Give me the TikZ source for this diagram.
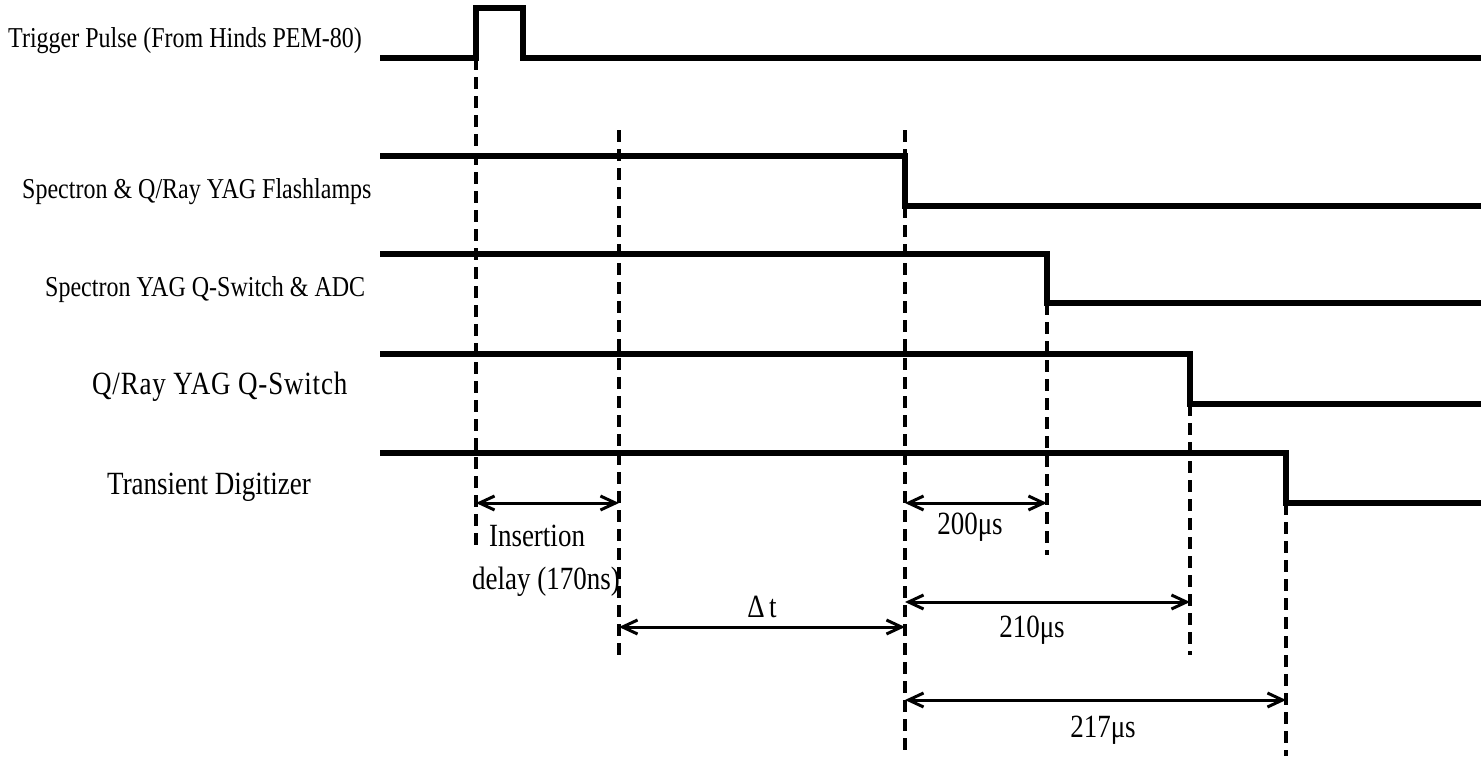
\documentclass[tikz,border=0pt]{standalone}
\usepackage{fontspec}
\setmainfont{Liberation Serif}
\usetikzlibrary{arrows.meta}
\newcommand{\tallt}[1]{\scalebox{1}[1.2]{#1}}
\tikzset{
  sig/.style={line width=5.5pt, line join=miter, line cap=butt},
  guide/.style={line width=3.3pt, dash pattern=on 12pt off 7pt},
  dimline/.style={line width=3pt, {Straight Barb[length=15pt,width=14pt,line width=3pt]}-{Straight Barb[length=15pt,width=14pt,line width=3pt]}},
  lbl/.style={font=\fontsize{24}{28}\selectfont, inner sep=0pt},
  lblbig/.style={font=\fontsize{27}{32}\selectfont, inner sep=0pt},
}
\begin{document}
\begin{tikzpicture}[x=1pt,y=-1pt]
\useasboundingbox (0,0) rectangle (1481,756);
% signals
\draw[sig] (380,58) -- (476,58) -- (476,8) -- (523,8) -- (523,58) -- (1481,58);
\draw[sig] (380,156) -- (905,156) -- (905,206) -- (1481,206);
\draw[sig] (380,254) -- (1047,254) -- (1047,303) -- (1481,303);
\draw[sig] (380,354) -- (1190,354) -- (1190,404) -- (1481,404);
\draw[sig] (380,453) -- (1286,453) -- (1286,503) -- (1481,503);
% dashed guides
\coordinate (g0a) at (476,58);  \coordinate (g0b) at (476,552);
\coordinate (g1a) at (619,130); \coordinate (g1b) at (619,655);
\coordinate (g2a) at (905,130); \coordinate (g2b) at (905,756);
\coordinate (g3a) at (1047,303); \coordinate (g3b) at (1047,555);
\coordinate (g4a) at (1190,404); \coordinate (g4b) at (1190,655);
\coordinate (g5a) at (1286,503); \coordinate (g5b) at (1286,756);
\draw[guide] (g0a) -- (g0b);
\draw[guide] (g1a) -- (g1b);
\draw[guide] (g2a) -- (g2b);
\draw[guide] (g3a) -- (g3b);
\draw[guide] (g4a) -- (g4b);
\draw[guide] (g5a) -- (g5b);
% dimension arrows
\coordinate (ia) at (476,503); \coordinate (ib) at (619,503);
\coordinate (da) at (619,627); \coordinate (db) at (905,627);
\coordinate (aa) at (905,503); \coordinate (ab) at (1047,503);
\coordinate (ba) at (905,602); \coordinate (bb) at (1190,602);
\coordinate (ca) at (905,700); \coordinate (cb) at (1286,700);
\draw[dimline] (ia) -- (ib);
\draw[dimline] (da) -- (db);
\draw[dimline] (aa) -- (ab);
\draw[dimline] (ba) -- (bb);
\draw[dimline] (ca) -- (cb);
% labels
\node[lbl, anchor=base west] (l1) at (8,47) {\tallt{Trigger Pulse (From Hinds PEM-80)}};
\node[lbl, anchor=base west] (l2) at (22,198) {\tallt{Spectron \& Q/Ray YAG Flashlamps}};
\node[lbl, anchor=base west] (l3) at (45,296) {\tallt{Spectron YAG Q-Switch \& ADC}};
\node[lblbig, anchor=base west] (l4) at (92,394) {\tallt{\addfontfeatures{LetterSpace=3}Q/Ray YAG Q-Switch}};
\node[lblbig, anchor=base west] (l5) at (107,494) {\tallt{Transient Digitizer}};
\node[lblbig, anchor=base] (m1) at (537,546) {\tallt{Insertion}};
\node[lblbig, anchor=base] (m2) at (546,589) {\tallt{delay (170ns)}};
\node[lblbig, anchor=base] (m3) at (762,617) {\tallt{Δ\,t}};
\node[lblbig, anchor=base] (m4) at (970,534) {\tallt{200μs}};
\node[lblbig, anchor=base] (m5) at (1032,637) {\tallt{210μs}};
\node[lblbig, anchor=base] (m6) at (1103,737) {\tallt{217μs}};
\end{tikzpicture}
\end{document}
